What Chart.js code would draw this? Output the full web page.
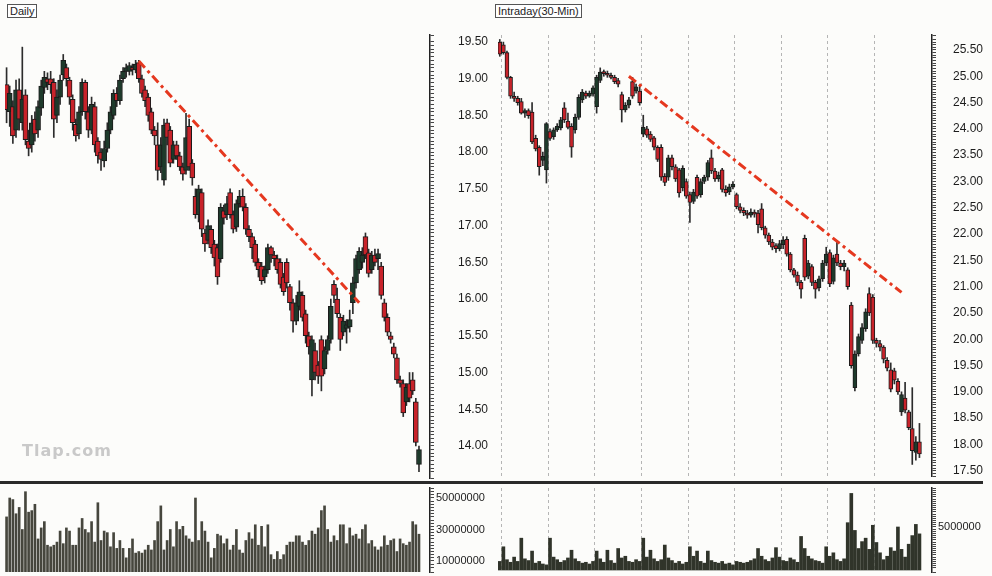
<!DOCTYPE html>
<html>
<head>
<meta charset="utf-8">
<script src="https://cdn.jsdelivr.net/npm/chart.js@4.4.0/dist/chart.umd.min.js"></script>
<style>
  html, body { margin: 0; padding: 0; background: #fcfcfa; }
  #page { position: relative; width: 992px; height: 576px; overflow: hidden; font-family: "Liberation Sans", Arial, sans-serif; }
  canvas { position: absolute; }
  .tag { position: absolute; font-size: 11px; line-height: 12px; padding: 0 2px; border: 1px solid #555; color: #222; background: #fff; }
  #sep { position: absolute; left: 0; top: 481px; width: 983px; height: 3px; background: #2a2a2a; }
  #mark { position: absolute; left: 22px; top: 441px; font: bold 16px "DejaVu Sans", sans-serif; color: #c9c9c9; letter-spacing: 1px; }
</style>
</head>
<body>
<div id="page">
  <canvas id="dPrice" width="492" height="459" style="left:0;top:27px"></canvas>
  <canvas id="dVol" width="492" height="92" style="left:0;top:484px"></canvas>
  <canvas id="iPrice" width="500" height="457" style="left:492px;top:27px"></canvas>
  <canvas id="iVol" width="500" height="92" style="left:492px;top:484px"></canvas>
  <div id="sep"></div>
  <div class="tag" style="left:7px;top:4px">Daily</div>
  <div class="tag" style="left:495px;top:4px">Intraday(30-Min)</div>
  <div id="mark">Tlap.com</div>
</div>
<script>
// ---- daily candles (one per session) ----
const dOpen = [18.92,18.55,18.62,18.30,18.85,18.40,18.78,18.15,18.10,18.45,18.30,18.60,18.88,19.00,19.00,18.95,18.50,18.75,19.05,19.15,
  18.98,18.72,18.38,18.25,18.55,18.95,18.55,18.30,18.62,18.15,18.00,17.88,18.05,18.30,18.50,18.80,18.70,19.00,19.10,19.10,
  19.15,19.12,19.22,19.00,18.85,18.75,18.55,18.30,18.10,17.80,17.62,18.40,18.30,17.90,18.10,17.95,17.80,17.75,18.35,17.85,
  17.40,17.15,17.45,16.90,16.80,16.95,16.75,16.70,16.55,17.20,17.15,17.45,17.15,16.98,17.30,17.40,17.25,16.95,16.85,16.75,
  16.50,16.45,16.30,16.40,16.70,16.60,16.55,16.50,16.30,16.50,16.17,15.95,15.70,15.90,16.05,15.80,15.50,14.90,15.30,15.10,
  15.45,15.05,15.30,15.45,16.20,16.00,15.75,15.55,15.60,15.62,15.95,16.22,16.40,16.50,16.85,16.63,16.40,16.60,16.55,16.45,
  15.95,15.75,15.50,15.35,15.20,14.90,14.85,14.60,14.85,14.90,14.60,13.75];
const dHigh = [19.15,18.90,18.70,18.98,19.00,19.43,18.85,18.30,18.50,18.55,18.70,18.98,19.10,19.08,19.10,19.00,18.85,19.05,19.33,19.20,
  19.02,18.78,18.45,18.62,19.00,18.98,18.62,18.75,18.68,18.20,18.05,18.15,18.40,18.62,18.85,18.88,19.05,19.15,19.20,19.22,
  19.20,19.25,19.25,19.05,18.90,18.80,18.60,18.35,18.40,18.20,18.45,18.45,18.35,18.15,18.15,18.00,17.85,18.53,18.45,17.90,
  17.50,17.55,17.50,16.95,17.08,17.00,16.80,16.75,17.30,17.28,17.40,17.50,17.20,17.35,17.48,17.50,17.30,17.00,16.90,16.80,
  16.55,16.50,16.45,16.75,16.72,16.65,16.60,16.55,16.35,16.55,16.20,16.00,16.05,16.25,16.10,15.85,15.55,15.50,15.40,15.15,
  15.50,15.35,15.50,16.00,16.25,16.15,15.80,15.78,15.72,15.85,16.30,16.60,16.70,16.70,16.90,16.68,16.65,16.68,16.68,16.50,
  16.00,15.80,15.55,15.40,15.25,14.95,14.90,14.85,15.00,15.00,14.65,14.00];
const dLow = [18.40,18.35,18.12,18.20,18.30,18.30,18.10,17.95,18.00,18.15,18.20,18.50,18.80,18.85,18.80,18.20,18.40,18.65,18.98,18.90,
  18.65,18.30,18.15,18.18,18.50,18.45,18.20,18.25,18.00,17.85,17.75,17.80,18.00,18.25,18.45,18.62,18.65,18.95,19.02,19.05,
  19.05,19.08,18.95,18.75,18.62,18.42,18.25,18.10,17.62,17.72,17.55,18.10,17.80,17.85,17.90,17.75,17.62,17.70,17.75,17.55,
  17.10,17.05,16.85,16.65,16.75,16.62,16.45,16.20,16.50,17.02,17.08,17.10,16.90,16.92,17.25,17.20,16.88,16.78,16.55,16.45,
  16.30,16.20,16.22,16.35,16.50,16.45,16.35,16.15,16.05,16.15,15.85,15.55,15.65,15.85,15.70,15.40,15.25,14.68,14.90,14.85,
  14.75,14.98,15.25,15.40,15.95,15.75,15.30,15.50,15.40,15.55,15.80,16.15,16.35,16.42,16.55,16.30,16.35,16.45,16.40,16.00,
  15.70,15.50,15.40,15.20,14.85,14.80,14.40,14.55,14.60,14.70,14.00,13.65];
const dClose = [18.58,18.80,18.22,18.85,18.45,18.72,18.17,18.05,18.40,18.25,18.62,18.90,19.02,18.95,18.92,18.45,18.75,18.98,19.25,19.00,
  18.75,18.40,18.22,18.55,18.95,18.55,18.30,18.65,18.10,17.95,17.90,18.05,18.30,18.55,18.80,18.70,18.98,19.10,19.15,19.18,
  19.12,19.20,19.00,18.80,18.70,18.50,18.30,18.22,17.75,18.10,18.37,18.20,17.85,18.10,17.95,17.80,17.70,18.20,17.80,17.65,
  17.15,17.50,16.95,16.75,17.00,16.70,16.56,16.30,17.25,17.10,17.30,17.15,16.95,17.30,17.40,17.25,16.95,16.85,16.70,16.50,
  16.40,16.25,16.40,16.70,16.60,16.55,16.40,16.20,16.10,16.22,15.95,15.70,15.95,16.10,15.75,15.50,15.35,15.45,15.00,14.95,
  14.95,15.30,15.45,15.90,16.05,15.80,15.45,15.70,15.65,15.72,16.22,16.55,16.65,16.60,16.60,16.35,16.60,16.50,16.62,16.05,
  15.75,15.55,15.45,15.25,14.90,14.85,14.45,14.80,14.65,14.75,14.05,13.95];
// daily volume, millions of shares
const dVolume = [38,50,49,40,44,30,54,41,42,46, 24,31,35,20,19,20,22,29,21,31, 29,20,20,31,37,30,28,35,22,47,
  23,29,28,19,28,18,23,18,12,18, 24,15,16,15,17,20,17,23,35,45, 17,23,30,19,35,30,32,26,24,22,
  50,23,35,29,22,12,18,27,26,21, 24,17,20,30,17,15,23,28,24,33, 20,32,19,33,14,11,16,11,14,20,
  22,22,26,26,22,20,23,29,27,31, 42,45,30,22,26,23,33,33,21,31, 26,27,24,30,33,21,23,19,17,19,
  26,20,23,24,16,24,21,20,22,35, 33,27];
const dSlots = 135;
const dTrendIdx = [42, 112];
const dTrendVal = [19.24, 15.95];
const dPriceTicks = [14.0,14.5,15.0,15.5,16.0,16.5,17.0,17.5,18.0,18.5,19.0,19.5];
const dVolTicks = [10, 30, 50];

// ---- intraday 30-minute candles ----
const iOpen = [25.65,
  25.60,25.45,24.98,24.62,24.58,24.52,24.30,24.35,24.32,23.82,23.65,23.40,23.22,
  23.95,23.85,23.98,24.02,24.40,24.15,24.05,23.98,24.22,24.55,24.68,24.62,24.66,
  24.42,24.92,25.08,25.05,25.02,24.98,24.92,24.65,24.36,24.45,24.90,24.72,24.72,
  23.90,24.00,23.90,23.83,23.65,23.65,23.10,23.08,23.45,23.28,23.22,22.88,23.00,
  22.75,22.62,23.08,22.75,23.00,23.08,23.45,23.20,23.05,23.22,22.85,22.80,22.90,
  22.75,22.52,22.45,22.40,22.36,22.42,22.40,22.48,22.12,21.98,21.85,21.78,21.72,
  21.80,21.90,21.62,21.32,21.22,21.08,21.92,21.20,21.38,21.08,20.98,21.15,21.45,
  21.65,21.10,21.62,21.45,21.38,21.32,20.65,19.08,19.72,19.98,20.20,20.87,20.80,
  19.98,19.92,19.85,19.60,19.42,19.40,19.20,18.62,18.88,18.62,18.30,17.85,18.05];
const iHigh = [25.70,
  25.65,25.48,25.00,24.70,24.62,24.58,24.38,24.38,24.50,23.88,23.68,23.56,24.12,
  24.00,24.02,24.10,24.22,24.50,24.30,24.10,24.28,24.65,24.75,24.72,24.72,24.82,
  25.02,25.16,25.12,25.10,25.06,25.02,24.96,24.70,24.50,24.60,24.98,24.85,24.82,
  24.26,24.05,23.95,23.86,23.68,23.70,23.15,23.50,23.50,23.32,23.25,23.30,23.05,
  22.80,22.85,23.12,23.05,23.12,23.40,23.60,23.25,23.18,23.25,22.92,22.95,23.00,
  22.78,22.58,22.50,22.45,22.48,22.46,22.45,22.58,22.15,22.02,21.90,21.82,21.88,
  21.95,21.95,21.65,21.35,21.28,21.12,21.98,21.50,21.42,21.12,21.20,21.50,21.75,
  21.70,21.60,21.88,21.50,21.50,21.36,20.70,19.78,20.10,20.30,20.58,20.98,20.85,
  20.02,19.98,19.88,19.65,19.55,19.45,19.25,19.00,19.18,18.65,19.08,18.15,18.40];
const iLow = [25.38,
  25.42,24.95,24.58,24.52,24.45,24.28,24.22,24.20,23.72,23.58,23.12,23.30,22.97,
  23.78,23.80,23.95,23.98,24.12,24.00,23.46,23.92,24.18,24.50,24.58,24.60,24.62,
  24.30,24.88,25.00,24.98,24.95,24.86,24.80,24.13,24.32,24.40,24.58,24.68,24.45,
  23.85,23.84,23.76,23.60,23.38,23.02,22.92,23.02,23.22,23.00,22.70,22.82,22.68,
  22.22,22.58,22.68,22.70,22.96,23.02,23.15,23.00,23.00,22.80,22.72,22.75,22.86,
  22.48,22.40,22.35,22.30,22.32,22.32,22.02,22.08,21.92,21.80,21.70,21.65,21.68,
  21.72,21.58,21.28,21.18,21.02,20.78,21.12,21.15,21.02,20.78,20.92,21.10,21.40,
  21.00,21.05,21.40,21.32,21.30,20.95,19.45,19.02,19.68,19.92,20.15,20.45,19.92,
  19.85,19.78,19.55,19.40,19.00,19.15,18.95,18.55,18.60,18.28,17.62,17.70,17.75];
const iClose = [25.42,
  25.45,24.98,24.62,24.58,24.50,24.30,24.35,24.25,23.75,23.62,23.28,23.48,24.10,
  23.82,23.98,24.05,24.17,24.17,24.03,23.65,24.22,24.60,24.70,24.62,24.68,24.78,
  24.98,25.08,25.05,25.02,24.98,24.90,24.85,24.36,24.45,24.55,24.62,24.80,24.50,
  24.03,23.88,23.80,23.65,23.42,23.08,22.98,23.45,23.28,23.05,22.78,23.25,22.72,
  22.60,22.80,22.72,23.00,23.08,23.36,23.20,23.05,23.12,22.85,22.78,22.90,22.95,
  22.52,22.45,22.40,22.36,22.42,22.38,22.18,22.12,21.98,21.85,21.75,21.72,21.82,
  21.88,21.62,21.32,21.22,21.08,20.95,21.18,21.45,21.08,20.95,21.15,21.45,21.62,
  21.05,21.55,21.45,21.38,21.45,21.00,19.50,19.72,20.05,20.22,20.52,20.50,19.98,
  19.92,19.85,19.62,19.45,19.05,19.22,19.00,18.95,18.65,18.32,17.88,18.05,17.82];
// intraday volume, millions of shares
const iVolume = [1.0,
  2.7,1.2,0.9,1.5,1.0,3.7,1.3,1.1,2.2,0.8,1.0,0.7,0.6,
  3.7,1.5,1.2,0.9,1.1,1.4,2.3,1.3,1.0,0.8,0.9,0.7,1.0,
  2.2,1.3,0.9,2.3,1.1,0.8,2.5,1.4,1.6,1.0,0.9,1.2,1.0,
  3.7,1.5,2.3,1.3,1.0,1.2,2.9,1.4,1.1,0.8,1.0,0.7,0.9,
  2.7,1.6,2.2,1.0,0.8,2.2,1.1,0.9,0.8,1.0,0.7,0.8,0.6,
  1.0,0.9,0.8,0.9,1.1,1.3,2.5,1.6,1.2,1.0,1.4,2.6,1.5,
  1.1,1.0,1.4,1.2,0.9,3.9,2.5,1.6,1.3,1.1,1.0,0.8,2.7,
  1.6,2.0,1.2,1.0,1.3,5.5,8.9,4.6,2.5,3.3,3.7,2.4,5.2,
  3.2,2.0,1.2,1.6,2.6,2.2,5.0,2.4,1.5,3.0,4.0,5.3,4.2];
const iSlots = 121;
const iDayStarts = [1, 14, 27, 40, 53, 66, 79, 92, 105];
const iTrendIdx = [36, 112];
const iTrendVal = [25.00, 20.89];
const iPriceTicks = [17.5,18.0,18.5,19.0,19.5,20.0,20.5,21.0,21.5,22.0,22.5,23.0,23.5,24.0,24.5,25.0,25.5];
const iVolTicks = [5];

const RED = '#c8232a', GREEN = '#1e3a2b', EDGE = '#1b1b1b';

function yAxis(min, max, step, marks, fmt, width, pad, size) {
  return {
    position: 'right', min: min, max: max,
    ticks: {
      stepSize: step, autoSkip: false, padding: pad, color: '#1c1c1c',
      font: { family: 'Liberation Sans', size: size },
      callback: v => marks.some(t => Math.abs(t - v) < 1e-6) ? fmt(v) : ''
    },
    grid: { drawOnChartArea: false, drawTicks: true, tickLength: 4, color: '#444', lineWidth: 1 },
    border: { display: true, color: '#222', width: 1.5 },
    afterFit: s => { s.width = width; s.paddingTop = 0; s.paddingBottom = 0; }
  };
}

function xAxis(dayStarts) {
  return {
    display: !!dayStarts, offset: true,
    ticks: { display: false, autoSkip: false },
    grid: {
      offset: true, drawTicks: false, lineWidth: 1,
      color: ctx => dayStarts && dayStarts.includes(ctx.index) ? '#b5b5b5' : 'rgba(0,0,0,0)'
    },
    border: { display: false, dash: [3, 3] },
    afterFit: s => { s.height = 0; s.paddingLeft = 0; s.paddingRight = 0; }
  };
}

function priceChart(id, o, h, l, c, slots, tIdx, tVal, y, x, pad, bodyW) {
  const labels = Array.from({ length: slots }, (_, i) => i);
  new Chart(document.getElementById(id), {
    type: 'bar',
    data: {
      labels: labels,
      datasets: [
        {
          type: 'line', order: 0,
          data: tIdx.map((v, i) => ({ x: v, y: tVal[i] })),
          borderColor: '#e5381f', borderWidth: 3, borderDash: [9, 4, 3, 4],
          pointRadius: 0, fill: false, tension: 0
        },
        {
          order: 1, grouped: false, barThickness: bodyW, minBarLength: 2,
          data: o.map((v, i) => [Math.min(v, c[i]), Math.max(v, c[i])]),
          backgroundColor: ctx => c[ctx.dataIndex] < o[ctx.dataIndex] ? RED : GREEN,
          borderColor: EDGE, borderWidth: 1, borderSkipped: false
        },
        {
          order: 2, grouped: false, barThickness: 1,
          data: l.map((v, i) => [v, h[i]]),
          backgroundColor: '#2c2c2c'
        }
      ]
    },
    options: {
      responsive: false, animation: false, devicePixelRatio: 1,
      layout: { padding: pad },
      plugins: { legend: { display: false }, tooltip: { enabled: false } },
      scales: { x: x, y: y }
    }
  });
}

function volumeChart(id, vol, slots, y, x, pad, barW, color) {
  new Chart(document.getElementById(id), {
    type: 'bar',
    data: {
      labels: Array.from({ length: slots }, (_, i) => i),
      datasets: [{ data: vol, backgroundColor: color, barThickness: barW }]
    },
    options: {
      responsive: false, animation: false, devicePixelRatio: 1,
      layout: { padding: pad },
      plugins: { legend: { display: false }, tooltip: { enabled: false } },
      scales: { x: x, y: y }
    }
  });
}

const price2 = v => v.toFixed(2);
const shares = v => String(Math.round(v * 1000000));

priceChart('dPrice', dOpen, dHigh, dLow, dClose, dSlots, dTrendIdx, dTrendVal,
  yAxis(13.564, 19.595, 0.05, dPriceTicks, price2, 62, 24, 12), xAxis(null),
  { left: 5, right: 0, top: 8, bottom: 8 }, 5);
volumeChart('dVol', dVolume, dSlots,
  yAxis(3.0, 56.35, 2, dVolTicks, shares, 62, 2, 11), xAxis(null),
  { left: 5, right: 0, top: 4, bottom: 4 }, 2, '#46463d');

priceChart('iPrice', iOpen, iHigh, iLow, iClose, iSlots, iTrendIdx, iTrendVal,
  yAxis(17.40, 25.785, 0.05, iPriceTicks, price2, 60, 17, 12), xAxis(iDayStarts),
  { left: 6, right: 0, top: 8, bottom: 8 }, 4);
volumeChart('iVol', iVolume, iSlots,
  yAxis(-0.23, 9.53, 0.25, iVolTicks, shares, 60, 2, 11), xAxis(iDayStarts),
  { left: 6, right: 0, top: 4, bottom: 4 }, 3, '#30342a');
</script>
</body>
</html>
